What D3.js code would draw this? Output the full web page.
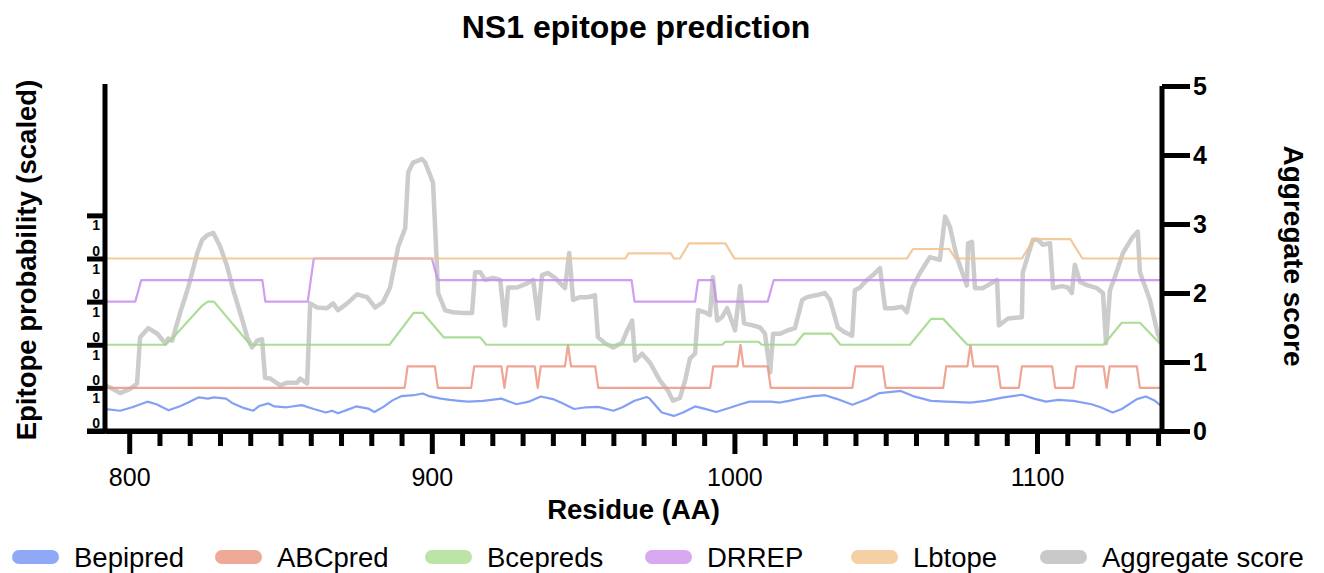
<!DOCTYPE html>
<html>
<head>
<meta charset="utf-8">
<script src="https://cdn.jsdelivr.net/npm/d3@7"></script>
<style>
  html, body { margin: 0; padding: 0; background: #fff; }
  svg { display: block; font-family: "Liberation Sans", Arial, sans-serif; }
</style>
</head>
<body>
<svg id="chart" width="1324" height="573"></svg>
<script>
// ---- Data: residue positions (AA) and per-tool scores ----
// Each predictor is scaled 0..1 inside its own band on the left axis.
const bepipred = [
  [792,0.52],[793,0.50],[797,0.47],[801,0.55],[806,0.68],[809,0.62],[813,0.48],[817,0.58],
  [820,0.68],[823,0.78],[826,0.75],[828,0.78],[832,0.75],[834,0.65],[838,0.53],[841,0.47],
  [843,0.58],[846,0.64],[848,0.57],[852,0.55],[857,0.60],[861,0.51],[865,0.43],[867,0.47],
  [869,0.41],[872,0.49],[875,0.57],[879,0.52],[881,0.44],[884,0.56],[887,0.71],[890,0.81],
  [894,0.83],[897,0.87],[899,0.81],[903,0.75],[906,0.72],[909,0.70],[912,0.68],[917,0.70],
  [923,0.75],[928,0.62],[932,0.68],[936,0.80],[940,0.74],[943,0.65],[947,0.51],[951,0.55],
  [955,0.56],[960,0.47],[963,0.55],[967,0.70],[971,0.79],[972,0.75],[976,0.43],[980,0.35],
  [983,0.43],[987,0.57],[990,0.52],[994,0.44],[999,0.55],[1002,0.62],[1005,0.68],[1012,0.68],
  [1015,0.66],[1018,0.70],[1022,0.76],[1026,0.81],[1030,0.83],[1034,0.74],[1039,0.61],[1044,0.74],
  [1048,0.88],[1055,0.93],[1059,0.81],[1065,0.70],[1070,0.68],[1078,0.66],[1083,0.70],[1089,0.78],
  [1095,0.84],[1099,0.75],[1103,0.68],[1107,0.72],[1112,0.70],[1118,0.62],[1121,0.55],[1125,0.43],
  [1128,0.51],[1133,0.74],[1136,0.80],[1139,0.70],[1141,0.58]
];

const abcpred = [
  [792,0],[891,0],[892,0.5],[901,0.5],[902,0],[913,0],[914,0.5],[923,0.5],[924,0],[925,0.5],
  [934,0.5],[935,0],[936,0.5],[944,0.5],[945,1],[946,0.5],[954,0.5],[955,0],[992,0],[993,0.5],
  [1001,0.5],[1002,1],[1003,0.5],[1011,0.5],[1012,0],[1039,0],[1040,0.5],[1049,0.5],[1050,0],
  [1069,0],[1070,0.5],[1077,0.5],[1078,1],[1079,0.5],[1087,0.5],[1088,0],[1094,0],[1095,0.5],
  [1105,0.5],[1106,0],[1112,0],[1113,0.5],[1122,0.5],[1123,0],[1124,0.5],[1133,0.5],[1134,0],
  [1141,0]
];

const bcepreds = [
  [792,0],[812,0],[814,0.13],[824,0.9],[826,1],[828,1],[840,0],[886,0],[894,0.74],[897,0.74],
  [904,0.17],[916,0.17],[918,0],[996,0],[997,0.07],[1008,0.07],[1009,0],[1020,0],[1023,0.26],
  [1032,0.26],[1035,0],[1058,0],[1065,0.6],[1069,0.6],[1077,0],[1122,0],[1128,0.51],[1134,0.51],
  [1141,0]
];

const drrep = [
  [792,0],[802,0],[804,0.5],[844,0.5],[845,0],[859,0],[861,1],[900,1],[902,0.5],[966,0.5],
  [967,0],[987,0],[988,0.5],[993,0.5],[994,0],[1011,0],[1013,0.5],[1141,0.5]
];

const lbtope = [
  [792,0],[964,0],[965,0.12],[979,0.12],[980,0],[982,0],[985,0.35],[997,0.35],[1000,0],
  [1057,0],[1059,0.22],[1071,0.22],[1073,0],[1095,0],[1099,0.45],[1111,0.45],[1115,0],[1141,0]
];

// Aggregate score (right axis)
const aggregate = [
  [792.1,0.66],[793.7,0.63],[797,0.55],[800.3,0.61],[802.6,0.69],[803.6,1.36],[806.3,1.49],
  [809.3,1.41],[811.9,1.27],[812.9,1.34],[814.2,1.31],[816.8,1.71],[819.5,2.08],[822.5,2.58],
  [824.1,2.77],[825.8,2.84],[827.8,2.87],[830.1,2.67],[832.4,2.38],[834.4,2.04],[836.7,1.71],
  [839,1.36],[840.6,1.21],[842.3,1.31],[843.9,1.33],[844.9,0.77],[846.6,0.76],[849.9,0.66],
  [852.2,0.7],[855.5,0.7],[856.5,0.76],[858.8,0.69],[859.8,1.85],[862.1,1.79],[865.4,1.78],
  [867.4,1.85],[869,1.75],[872,1.85],[875.3,1.98],[878.6,1.94],[881.3,1.79],[883.9,1.87],
  [886.2,2.08],[888.9,2.67],[891.2,2.94],[892.2,3.75],[893.8,3.89],[896.8,3.94],[897.8,3.89],
  [900.4,3.6],[902.1,2.0],[904.4,1.75],[907,1.72],[910.3,1.71],[913.3,1.71],[914.3,2.3],
  [916,2.3],[917.6,2.19],[920.3,2.22],[922.6,2.19],[924.2,1.53],[925.2,2.08],[928.2,2.08],
  [931.5,2.14],[933.5,2.19],[935.1,1.63],[936.4,2.26],[938.4,2.29],[940.7,2.22],[944,2.07],
  [945.4,2.58],[946.7,1.9],[949,1.94],[951.6,1.94],[953.9,1.97],[954.9,1.36],[957.3,1.27],
  [959.9,1.21],[962.9,1.28],[964.5,1.45],[966.2,1.6],[967.2,1.02],[969.5,1.12],[972.1,0.99],
  [975.4,0.73],[978.1,0.58],[979.7,0.44],[982,0.48],[983.7,0.73],[985.3,1.05],[987,1.12],
  [988,1.75],[990.3,1.72],[991.9,1.68],[992.9,2.23],[994.3,1.6],[995.9,1.65],[997.6,1.78],
  [1000.2,1.46],[1001.9,2.1],[1003.2,1.56],[1006.1,1.53],[1008.5,1.5],[1010.1,1.41],
  [1011.8,0.85],[1012.8,1.41],[1015.1,1.41],[1017.7,1.46],[1020,1.49],[1022.4,1.9],[1024,1.94],
  [1027.3,1.97],[1029.9,2.0],[1031.6,1.9],[1034.2,1.5],[1036.5,1.43],[1038.9,1.38],[1039.8,2.04],
  [1041.5,2.08],[1043.8,2.19],[1045.8,2.26],[1048.1,2.36],[1049.8,1.78],[1052.4,1.78],
  [1055.4,1.8],[1057,1.72],[1058.7,2.07],[1061.3,2.29],[1064.6,2.52],[1067.9,2.48],[1069.6,3.11],
  [1071.2,2.96],[1073.5,2.52],[1076.8,2.11],[1077.2,2.72],[1078.5,2.74],[1079.5,2.07],
  [1082.1,2.07],[1086.8,2.19],[1087.4,1.53],[1090.4,1.63],[1095,1.65],[1095.3,2.3],[1098.6,2.77],
  [1100.3,2.77],[1101.9,2.7],[1104.3,2.72],[1105.3,2.07],[1108.2,2.1],[1110.2,2.08],[1111.5,2.0],
  [1112.5,2.41],[1114.2,2.16],[1116.8,2.11],[1119.8,2.07],[1121.8,2.0],[1122.8,1.27],[1124.1,2.04],
  [1125.7,2.23],[1128.4,2.58],[1131.4,2.8],[1133.3,2.89],[1134,2.3],[1137.3,1.9],[1139.9,1.41],
  [1141.3,1.27]
];

const xTickMajor = [800, 900, 1000, 1100];
const rightTicks = [0, 1, 2, 3, 4, 5];
const bandNames = ["Bepipred", "ABCpred", "Bcepreds", "DRREP", "Lbtope"];
const legendNames = ["Bepipred", "ABCpred", "Bcepreds", "DRREP", "Lbtope", "Aggregate score"];

(function draw() {
  // ---- Layout ----
  const svg = d3.select("#chart");
  const plotLeft = 105, plotRight = 1162, plotTop = 86, plotBottom = 431;
  const font = '"Liberation Sans", Arial, sans-serif';

  const x = d3.scaleLinear().domain([792, 1141.3]).range([plotLeft, plotRight]);
  const yBand = d3.scaleLinear().domain([0, 8]).range([plotBottom, plotTop]);  // stacked 0..1 bands
  const yAgg = d3.scaleLinear().domain([0, 5]).range([plotBottom, plotTop]);   // aggregate score

  const lineColors = ["#6d8ff3", "#ec9581", "#9cd786", "#c78cf0", "#f1c08c"];
  const swatchColors = ["#8fa9f6", "#eea997", "#bbe4a6", "#d8a9f1", "#f4d0a4", "#c9c9c9"];
  const aggColor = "#c6c6c6";

  // Aggregate score line underneath the predictor bands
  svg.append("path")
    .datum(aggregate)
    .attr("fill", "none")
    .attr("stroke", aggColor)
    .attr("stroke-width", 4.5)
    .attr("stroke-linejoin", "round")
    .attr("opacity", 0.9)
    .attr("d", d3.line().x(d => x(d[0])).y(d => yAgg(d[1])));

  // Predictor lines, each offset into its own band
  [bepipred, abcpred, bcepreds, drrep, lbtope].forEach((series, band) => {
    svg.append("path")
      .datum(series)
      .attr("fill", "none")
      .attr("stroke", lineColors[band])
      .attr("stroke-width", 2.2)
      .attr("stroke-linejoin", "round")
      .attr("opacity", 0.85)
      .attr("d", d3.line().x(d => x(d[0])).y(d => yBand(band + d[1])));
  });

  // ---- Axes ----
  function styleAxis(g) {
    g.selectAll("path, line").attr("stroke", "#000").attr("stroke-width", 5);
  }

  // bottom axis: minor ticks every 10, major every 100
  const minorTicks = d3.range(810, 1141, 10).filter(d => d % 100 !== 0);
  svg.append("g")
    .attr("transform", `translate(0,${plotBottom})`)
    .call(d3.axisBottom(x).tickValues(minorTicks).tickSize(15).tickSizeOuter(0).tickFormat(""))
    .call(styleAxis);
  const xAxisG = svg.append("g")
    .attr("transform", `translate(0,${plotBottom})`)
    .call(d3.axisBottom(x).tickValues(xTickMajor).tickSize(23).tickSizeOuter(0)
      .tickPadding(8).tickFormat(d3.format("d")))
    .call(styleAxis);
  xAxisG.selectAll("text")
    .attr("font-family", font).attr("font-size", 25).attr("fill", "#000")
    .attr("dy", "0.95em");
  xAxisG.select(".domain").attr("d", `M${plotLeft - 18},0H${plotRight}`);

  // left axis: band boundaries, labels added per band below
  const leftG = svg.append("g")
    .attr("transform", `translate(${plotLeft},0)`)
    .call(d3.axisLeft(yBand).tickValues([0, 1, 2, 3, 4, 5]).tickSize(18).tickSizeOuter(0).tickFormat(""))
    .call(styleAxis);
  leftG.select(".domain").attr("d", `M0,${plotTop - 2}V${plotBottom}`);

  bandNames.forEach((name, band) => {
    leftG.append("text")
      .attr("x", -5).attr("y", yBand(band + 1) + 15)
      .attr("text-anchor", "end").attr("font-family", font).attr("font-weight", "bold")
      .attr("font-size", 14).attr("fill", "#000").text("1");
    leftG.append("text")
      .attr("x", -5).attr("y", yBand(band) - 3)
      .attr("text-anchor", "end").attr("font-family", font).attr("font-weight", "bold")
      .attr("font-size", 14).attr("fill", "#000").text("0");
  });

  // right axis: aggregate score
  const rightG = svg.append("g")
    .attr("transform", `translate(${plotRight},0)`)
    .call(d3.axisRight(yAgg).tickValues(rightTicks).tickSize(28).tickSizeOuter(0)
      .tickPadding(3).tickFormat(d3.format("d")))
    .call(styleAxis);
  rightG.select(".domain").attr("d", `M0,${plotTop}V${plotBottom + 2}`);
  rightG.selectAll("text")
    .attr("font-family", font).attr("font-size", 25).attr("font-weight", "bold").attr("fill", "#000");

  // ---- Titles ----
  svg.append("text")
    .attr("x", 636).attr("y", 38)
    .attr("text-anchor", "middle").attr("font-family", font)
    .attr("font-weight", "bold").attr("font-size", 32).attr("fill", "#000")
    .text("NS1 epitope prediction");

  svg.append("text")
    .attr("x", (plotLeft + plotRight) / 2).attr("y", 519)
    .attr("text-anchor", "middle").attr("font-family", font)
    .attr("font-weight", "bold").attr("font-size", 27.5).attr("fill", "#000")
    .text("Residue (AA)");

  svg.append("text")
    .attr("transform", "translate(36,260) rotate(-90)")
    .attr("text-anchor", "middle").attr("font-family", font)
    .attr("font-weight", "bold").attr("font-size", 27.5).attr("fill", "#000")
    .text("Epitope probability (scaled)");

  svg.append("text")
    .attr("transform", "translate(1284,256) rotate(90)")
    .attr("text-anchor", "middle").attr("font-family", font)
    .attr("font-weight", "bold").attr("font-size", 28).attr("fill", "#000")
    .text("Aggregate score");

  // ---- Legend ----
  const legendX = [12, 215, 425, 645, 851, 1040];
  const legend = svg.append("g");
  legendNames.forEach((name, i) => {
    const g = legend.append("g").attr("transform", `translate(${legendX[i]},557)`);
    g.append("rect")
      .attr("x", 0).attr("y", -7).attr("width", 47).attr("height", 14)
      .attr("rx", 7).attr("fill", swatchColors[i]);
    g.append("text")
      .attr("x", 62).attr("y", 10)
      .attr("font-family", font).attr("font-size", 27.5).attr("fill", "#000")
      .text(name);
  });
})();
</script>
</body>
</html>
